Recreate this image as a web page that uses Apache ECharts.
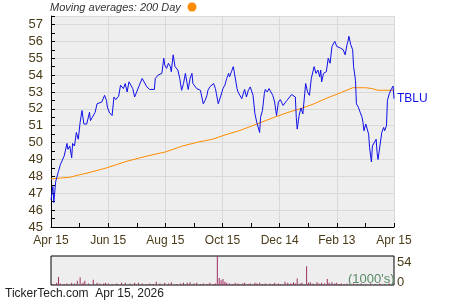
<!DOCTYPE html>
<html>
<head>
<meta charset="utf-8">
<script src="https://cdn.jsdelivr.net/npm/echarts@6/dist/echarts.min.js"></script>
<style>
html,body{margin:0;padding:0;background:#fff;}
#c{width:450px;height:300px;}
</style>
</head>
<body>
<div id="c"></div>
<script>
// ---- data ----
const tickLabels = ['Apr 15','Jun 15','Aug 15','Oct 15','Dec 14','Feb 13','Apr 15'];
const yTickValues = [45,46,47,48,49,50,51,52,53,54,55,56,57];
const tickerName = 'TBLU';
const volumeMaxLabel = 54;

// days since Apr 15, 2025
const priceDays = [0,2,3,5,6,8,10,11,14,17,18,20,22,23,25,27,29,31,33,35,38,41,42,44,47,49,51,54,57,59,60,62,64,65,67,69,72,74,77,79,81,83,85,87,89,91,94,97,99,102,105,107,110,111,114,116,118,120,121,123,125,127,128,130,132,134,135,137,139,141,143,144,146,148,150,151,153,155,157,159,160,162,164,166,167,169,171,173,175,176,178,180,182,183,185,187,189,190,192,194,196,198,199,201,203,205,206,208,210,212,214,215,217,219,221,222,223,225,227,228,230,232,234,236,238,240,242,244,245,247,249,251,253,254,256,258,260,261,262,264,266,268,270,271,273,275,277,278,280,282,284,286,287,288,290,292,293,295,297,299,300,302,304,306,308,309,311,313,315,316,317,319,321,322,324,325,327,329,331,332,333,335,336,338,339,341,342,344,346,347,348,350,352,354,355,357,358,360,362,364,365];
const priceValues = [46.6,47.4,46.45,47.7,47.8,48.3,48.7,48.8,49.2,49.95,49.6,49.8,49.1,49.95,49.8,50.6,50.2,51.2,51.9,51.1,51.1,51.8,51.3,51.5,51.8,52.3,52.3,52.4,52.8,52.5,52.1,51.8,51.7,51.6,52.7,52.55,52.75,53.4,53.2,53.5,53.0,53.6,53.4,53.2,52.7,52.7,53.4,53.8,53.7,53.3,53.15,53.15,53.15,53.8,54.0,54.1,54.1,55.0,54.6,54.4,54.7,54.5,54.2,55.2,54.5,54.6,54.3,53.8,53.1,53.5,54.1,54.1,53.15,53.8,54.1,53.5,53.4,53.2,53.2,53.1,53.0,52.3,52.5,52.8,53.1,53.3,53.2,53.5,53.2,52.9,52.3,52.2,53.0,53.2,53.4,53.8,54.1,53.9,54.2,54.5,54.4,53.2,53.0,52.9,52.6,52.7,53.15,52.7,53.1,53.3,53.2,52.8,51.7,51.2,51.1,50.6,51.5,51.9,52.9,53.15,53.0,53.2,53.0,52.8,52.4,51.6,52.4,52.55,52.5,52.2,52.35,52.5,52.6,52.7,52.85,52.75,52.7,51.5,50.8,51.6,52.05,51.7,52.9,53.5,53.0,52.8,53.8,53.85,54.5,54.1,54.3,53.9,54.3,53.6,54.1,54.1,54.2,55.0,54.7,55.7,55.8,56.0,55.7,55.7,55.6,55.7,55.5,55.2,55.8,56.0,56.3,55.8,55.5,54.5,53.7,52.3,52.1,51.8,51.5,51.2,50.7,51.1,51.2,50.5,49.7,48.85,49.8,49.7,50.2,49.4,49.0,49.8,50.6,50.9,50.7,51.0,52.5,52.9,53.15,53.35,52.6];

const maDays = [0,10,20,31,39,59,81,102,122,140,158,172,185,200,212,233,250,265,280,292,308,321,335,342,348,365];
const maValues = [47.85,47.9,47.95,48.1,48.2,48.5,48.9,49.2,49.45,49.8,50.05,50.2,50.45,50.7,50.95,51.4,51.75,52.0,52.3,52.6,52.95,53.25,53.25,53.2,53.1,53.1];

const volDays = [3,6,8,10,14,17,22,25,28,31,34,36,40,45,49,52,56,58,61,65,70,75,79,84,89,93,97,102,105,109,112,116,121,125,128,134,138,141,145,148,152,155,159,162,166,169,173,175,177,179,181,183,185,187,190,193,196,199,201,204,206,210,212,217,219,222,225,228,233,236,238,242,244,249,252,255,258,260,262,265,267,272,274,276,279,283,285,288,291,294,296,299,302,304,307,309,312,315,318,322,326,330,335,340,345,350,355,360,364];
const volValues = [2,4,15,3,2,3,4,3,8,14,4,8,3,10,4,3,3,4,3,2,3,4,4,3,4,4,3,2,3,2,6,3,4,3,5,2,3,4,4,5,3,4,2,3,2,4,2,3,54,13,9,11,6,4,3,2,4,3,2,3,4,2,3,4,3,4,2,3,3,2,4,3,2,6,4,3,5,3,12,3,4,35,4,5,3,5,3,4,3,11,4,5,3,4,2,3,2,3,2,3,2,3,2,3,2,3,2,3,2];

// ---- build ----
const totalDays = 365;
const step = totalDays / 6;
const pricePts = priceDays.map((d, i) => [d, priceValues[i]]);
const maPts = maDays.map((d, i) => [d, maValues[i]]);
const volPts = volDays.map((d, i) => [d, volValues[i]]);

const labelColor = '#4A3B18';
const chart = echarts.init(document.getElementById('c'), null, {renderer: 'canvas'});
chart.setOption({
  animation: false,
  backgroundColor: '#ffffff',
  grid: [
    {left: 51, top: 16, width: 343, height: 211, show: true, backgroundColor: '#EEEEEE', borderWidth: 0},
    {left: 51, top: 256, width: 343, height: 29, show: true, backgroundColor: '#EEEEEE', borderColor: '#000', borderWidth: 1}
  ],
  xAxis: [
    {
      type: 'value', gridIndex: 0, min: 0, max: totalDays, interval: step,
      axisLine: {show: true, lineStyle: {color: '#000', width: 1}},
      axisTick: {show: true, inside: true, length: 4, lineStyle: {color: '#000'}},
      minorTick: {show: true, splitNumber: 2, length: 4, lineStyle: {color: '#000'}},
      axisLabel: {
        show: true, margin: 8, color: labelColor, fontSize: 12, fontFamily: 'Liberation Sans, Arial, sans-serif',
        formatter: v => tickLabels[Math.round(v / step)] || ''
      },
      splitLine: {show: true, lineStyle: {color: '#D9D9D9', width: 1}}
    },
    {
      type: 'value', gridIndex: 1, min: 0, max: totalDays, show: false
    }
  ],
  yAxis: [
    {
      type: 'value', gridIndex: 0, min: 45, max: 57.5, interval: 0.5,
      axisLine: {show: true, lineStyle: {color: '#000', width: 1}},
      axisTick: {show: true, inside: true, length: 4, lineStyle: {color: '#000'}},
      axisLabel: {
        show: true, margin: 8, color: labelColor, fontSize: 13, fontFamily: 'Liberation Sans, Arial, sans-serif',
        formatter: v => (yTickValues.indexOf(v) >= 0 ? String(v) : '')
      },
      splitLine: {show: false}
    },
    {
      type: 'value', gridIndex: 0, min: 45, max: 57.5, interval: 1,
      axisLine: {show: false}, axisTick: {show: false}, axisLabel: {show: false},
      splitLine: {show: true, lineStyle: {color: '#D9D9D9', width: 1}}
    },
    {
      type: 'value', gridIndex: 1, position: 'right', min: 0, max: volumeMaxLabel, interval: volumeMaxLabel,
      axisLine: {show: false}, axisTick: {show: false}, splitLine: {show: false},
      axisLabel: {
        show: true, margin: 3, color: labelColor, fontSize: 13, fontFamily: 'Liberation Sans, Arial, sans-serif',
        formatter: v => (v === 0 ? '{b|0}' : '{t|' + v + '}'),
        rich: {
          t: {padding: [13, 0, 0, 0], color: labelColor, fontSize: 13, fontFamily: 'Liberation Sans, Arial, sans-serif'},
          b: {padding: [0, 0, 6, 0], color: labelColor, fontSize: 13, fontFamily: 'Liberation Sans, Arial, sans-serif'}
        }
      }
    }
  ],
  series: [
    {
      type: 'line', xAxisIndex: 0, yAxisIndex: 0, data: maPts, showSymbol: false, symbol: 'none',
      lineStyle: {color: '#FF8C00', width: 1}, z: 3
    },
    {
      type: 'line', xAxisIndex: 0, yAxisIndex: 0, data: pricePts, showSymbol: false, symbol: 'none',
      lineStyle: {color: '#1010E8', width: 1}, z: 4,
      endLabel: {show: true, formatter: tickerName, color: '#1010E8', fontSize: 12, distance: 3,
        fontFamily: 'Liberation Sans, Arial, sans-serif'}
    },
    {
      type: 'bar', xAxisIndex: 1, yAxisIndex: 2, data: volPts, barWidth: 1,
      itemStyle: {color: '#9B2F62'}
    }
  ],
  graphic: [
    {type: 'text', left: 50, top: 2, style: {text: 'Moving averages: 200 Day', fill: '#333', fontSize: 11, fontStyle: 'italic', fontFamily: 'Liberation Sans, Arial, sans-serif'}},
    {type: 'circle', shape: {cx: 192, cy: 7, r: 4.5}, style: {fill: '#FF8C00'}},
    {type: 'text', left: 348, top: 273, z: 100, style: {text: "(1000's)", fill: '#5A8A68', fontSize: 13, fontFamily: 'Liberation Sans, Arial, sans-serif'}},
    {type: 'text', left: 5, top: 288, style: {text: 'TickerTech.com  Apr 15, 2026', fill: '#222', fontSize: 12, fontFamily: 'Liberation Sans, Arial, sans-serif'}}
  ]
});
</script>
</body>
</html>
